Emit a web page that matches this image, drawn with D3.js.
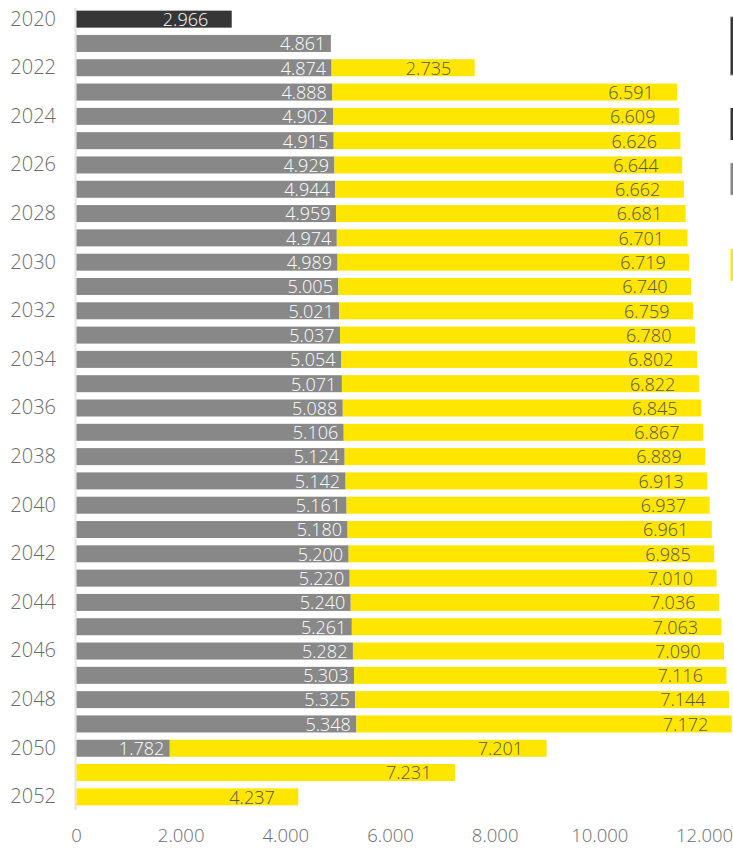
<!DOCTYPE html>
<html>
<head>
<meta charset="utf-8">
<script src="https://cdn.jsdelivr.net/npm/d3@7"></script>
<style>
  html, body { margin: 0; padding: 0; background: #fff; }
  svg { display: block; font-family: "Open Sans", "Noto Sans", sans-serif; }
</style>
</head>
<body>
<svg id="chart" width="733" height="849"></svg>
<script>
// Years on the vertical axis
const years = d3.range(2020, 2053);

// First segment (2020 only)
const darkYears = [2020];
const darkValues = [2966];

// Second segment, 2021-2050
const greyYears = d3.range(2021, 2051);
const greyValues = [4861, 4874, 4888, 4902, 4915, 4929, 4944, 4959, 4974, 4989,
                    5005, 5021, 5037, 5054, 5071, 5088, 5106, 5124, 5142, 5161,
                    5180, 5200, 5220, 5240, 5261, 5282, 5303, 5325, 5348, 1782];

// Third segment, 2022-2052
const yellowYears = d3.range(2022, 2053);
const yellowValues = [2735, 6591, 6609, 6626, 6644, 6662, 6681, 6701, 6719, 6740,
                      6759, 6780, 6802, 6822, 6845, 6867, 6889, 6913, 6937, 6961,
                      6985, 7010, 7036, 7063, 7090, 7116, 7144, 7172, 7201, 7231, 4237];

const xTicks = [0, 2000, 4000, 6000, 8000, 10000, 12000];
const yearTicks = years.filter(y => y % 2 === 0);

const colors = { dark: "#363636", grey: "#888888", yellow: "#FFE600" };

// Build stacked rows
const rows = years.map(yr => {
  const di = darkYears.indexOf(yr), gi = greyYears.indexOf(yr), yi = yellowYears.indexOf(yr);
  return {
    year: yr,
    dark: di >= 0 ? darkValues[di] : 0,
    grey: gi >= 0 ? greyValues[gi] : 0,
    yellow: yi >= 0 ? yellowValues[yi] : 0
  };
});
const keys = ["dark", "grey", "yellow"];
const stacked = d3.stack().keys(keys)(rows);

const svg = d3.select("#chart");
const W = 733, H = 849;

const x = d3.scaleLinear().domain([0, 12000]).range([76, 704]);
const y = d3.scaleBand().domain(years).range([7, 809]).paddingInner(0.3).paddingOuter(0.15);

const fmt = v => d3.format(",")(v).replace(/,/g, ".");

// Clip to the drawing area
svg.append("defs").append("clipPath").attr("id", "clip")
  .append("rect").attr("x", 0).attr("y", 0).attr("width", W).attr("height", H);

const plot = svg.append("g").attr("clip-path", "url(#clip)");

// Vertical baseline
plot.append("line")
  .attr("x1", x(0) - 0.5).attr("x2", x(0) - 0.5)
  .attr("y1", 8).attr("y2", 810)
  .attr("stroke", "#e3e3e3").attr("stroke-width", 2);

// Bars
stacked.forEach(layer => {
  const key = layer.key;
  const g = plot.append("g");
  g.selectAll("rect")
    .data(layer.filter(d => d[1] - d[0] > 0))
    .join("rect")
    .attr("x", d => x(d[0]) + 0.5)
    .attr("y", d => y(d.data.year))
    .attr("width", d => x(d[1]) - x(d[0]))
    .attr("height", y.bandwidth())
    .attr("fill", colors[key]);

  const off = key === "grey" ? 5 : 23;
  g.selectAll("text")
    .data(layer.filter(d => d[1] - d[0] > 0))
    .join("text")
    .attr("x", d => x(d[1]) - off)
    .attr("y", d => y(d.data.year) + y.bandwidth() / 2)
    .attr("dy", "0.38em")
    .attr("text-anchor", "end")
    .attr("font-size", 18)
    .attr("font-weight", 300)
    .attr("fill", key === "yellow" ? "#555555" : "#ffffff")
    .text(d => fmt(d[1] - d[0]));
});

// Legend keys at the right edge
const legendKeys = [
  { y0: 17, y1: 75, fill: colors.dark, stroke: "#9a9a9a" },
  { y0: 108, y1: 140, fill: colors.dark, stroke: null },
  { y0: 163, y1: 195, fill: colors.grey, stroke: null },
  { y0: 249, y1: 281, fill: colors.yellow, stroke: null }
];
plot.selectAll("rect.legend")
  .data(legendKeys)
  .join("rect")
  .attr("class", "legend")
  .attr("x", 730.5).attr("y", d => d.y0)
  .attr("width", 20).attr("height", d => d.y1 - d.y0)
  .attr("fill", d => d.fill)
  .attr("stroke", d => d.stroke || "none");

// Year axis
const yAxis = d3.axisLeft(y).tickValues(yearTicks).tickSize(0).tickPadding(0);
const yg = svg.append("g").attr("transform", "translate(56,0)").call(yAxis);
yg.select(".domain").remove();
yg.selectAll("text").attr("font-size", 20).attr("font-weight", 300).attr("fill", "#6b6b6b")
  .attr("font-family", "'Open Sans', sans-serif");

// Value axis
const xAxis = d3.axisBottom(x).tickValues(xTicks).tickFormat(fmt).tickSize(0).tickPadding(0);
const xg = svg.append("g").attr("transform", "translate(0,829)").call(xAxis);
xg.select(".domain").remove();
xg.selectAll("text").attr("font-size", 18.5).attr("font-weight", 300).attr("fill", "#6b6b6b")
  .attr("font-family", "'Open Sans', sans-serif");
</script>
</body>
</html>
